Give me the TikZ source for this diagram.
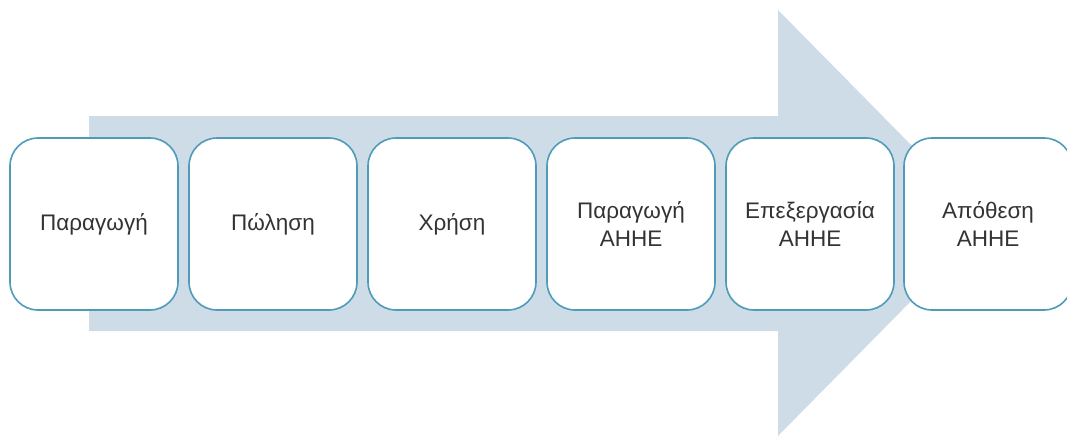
\documentclass[tikz,border=0pt]{standalone}
\usepackage{fontspec}
\setmainfont{Liberation Sans}
\definecolor{arrowfill}{HTML}{CEDCE7}
\definecolor{boxline}{HTML}{4E9BBA}
\definecolor{boxtext}{HTML}{333333}

\tikzset{
    stage/.style = {draw = boxline, line width = 1.6pt, fill = white, rounded corners = 28pt,
        minimum width = 168pt, minimum height = 172pt, align = center,
        text = boxtext, font = \fontsize{22.5}{28}\selectfont}
}

\begin{document}
\begin{tikzpicture}[x = 1pt, y = -1pt]
    \useasboundingbox (0, 0) rectangle (1067, 436);

    % big background arrow
    \fill[arrowfill] (89, 116) -- (778, 116) -- (778, 10) -- (988, 223) -- (778, 436) -- (778, 331) -- (89, 331) -- cycle;

    \node [stage] (paragogi) at (94, 224) {Παραγωγή};
    \node [stage] (polisi) at (273, 224) {Πώληση};
    \node [stage] (xrisi) at (452, 224) {Χρήση};
    \node [stage] (paragogiahhe) at (631, 224) {Παραγωγή\\ΑΗΗΕ};
    \node [stage] (epexergasia) at (810, 224) {Επεξεργασία\\ΑΗΗΕ};
    \node [stage] (apothesi) at (988, 224) {Απόθεση\\ΑΗΗΕ};
\end{tikzpicture}
\end{document}
